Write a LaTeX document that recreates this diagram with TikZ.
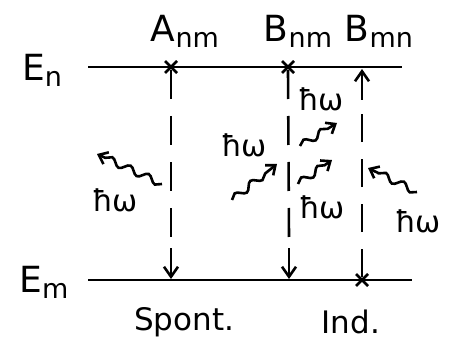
\documentclass[tikz,border=0pt]{standalone}
\usepackage{fontspec}
\setmainfont{DejaVu Sans}
\usetikzlibrary{arrows.meta,decorations.pathmorphing}
% lowered index letters next to a symbol
\newcommand{\lowsub}[1]{\raisebox{-0.3ex}{\fontsize{27}{27}\selectfont #1}}
\begin{document}
\begin{tikzpicture}[x=1pt,y=-1pt,
  level/.style={line width=2.8pt},
  trans/.style={line width=2.6pt,dash pattern=on 29pt off 17pt},
  transup/.style={line width=2.6pt,dash pattern=on 28pt off 17pt},
  tip/.style={line width=2.6pt,-{Straight Barb[length=10pt,width=14pt]}},
  photon/.style={line width=2.6pt,decorate,
    decoration={snake,amplitude=3.5pt,segment length=20pt,post length=6pt},
    -{Straight Barb[length=8pt,width=13pt]}},
  lbl/.style={font=\fontsize{36}{40}\selectfont},
  hw/.style={font=\fontsize{30}{34}\selectfont},
  procname/.style={font=\fontsize{31}{34}\selectfont},
  cross/.style={line width=2.6pt}]
\useasboundingbox (0,0) rectangle (453,345);

% energy levels
\coordinate (n0) at (88,67);
\coordinate (n1) at (402,67);
\coordinate (m0) at (88,280);
\coordinate (m1) at (412,280);
\draw[level] (n0) -- (n1);
\draw[level] (m0) -- (m1);
\node[lbl] (En) at (42,70) {E\lowsub{n}};
\node[lbl] (Em) at (44,282) {E\lowsub{m}};

% coefficient labels
\node[lbl] (Anm) at (185,31) {A\lowsub{nm}};
\node[lbl] (Bnm) at (298,31) {B\lowsub{nm}};
\node[lbl] (Bmn) at (379,31) {B\lowsub{mn}};

% transition columns
\coordinate (a1) at (171,67);
\coordinate (a2) at (171,279);
\coordinate (b1) at (288,67);
\coordinate (b2) at (289,279);
\coordinate (c1) at (362,69);
\coordinate (c2) at (362,280);

% crosses on the starting levels
\foreach \p in {a1,b1,c2}{
  \draw[cross] ([shift={(-6,-6)}]\p) -- ([shift={(6,6)}]\p);
  \draw[cross] ([shift={(-6,6)}]\p) -- ([shift={(6,-6)}]\p);
}

% dashed transitions with arrow heads
\draw[trans] ([shift={(0,3)}]a1) -- ([shift={(0,-42)}]a2);
\draw[tip] ([shift={(0,-31)}]a2) -- (a2);
\draw[trans] ([shift={(0,3)}]b1) -- ([shift={(0,-42)}]b2);
\draw[tip] ([shift={(0,-31)}]b2) -- (b2);
\draw[transup] ([shift={(0,-3)}]c2) -- ([shift={(0,45)}]c1);
\draw[tip] ([shift={(0,31)}]c1) -- (c1);

% photons
\coordinate (p1s) at (162,184);
\coordinate (p1e) at (97,154);
\coordinate (p2s) at (232,200);
\coordinate (p2e) at (277,164);
\coordinate (p3s) at (300,146);
\coordinate (p3e) at (337,123);
\coordinate (p4s) at (298,184);
\coordinate (p4e) at (332,160);
\coordinate (p5s) at (417,192);
\coordinate (p5e) at (368,168);
\foreach \s/\e in {p1s/p1e,p2s/p2e,p3s/p3e,p4s/p4e,p5s/p5e}
  \draw[photon] (\s) -- (\e);

\node[hw] (h1) at (115,200) {ħω};
\node[hw] (h2) at (244,145) {ħω};
\node[hw] (h3) at (321,99) {ħω};
\node[hw] (h4) at (322,207) {ħω};
\node[hw] (h5) at (418,221) {ħω};

% process names
\node[procname] (sp) at (184,322) {Spont.};
\node[procname] (ind) at (351,322) {Ind.};
\end{tikzpicture}
\end{document}
